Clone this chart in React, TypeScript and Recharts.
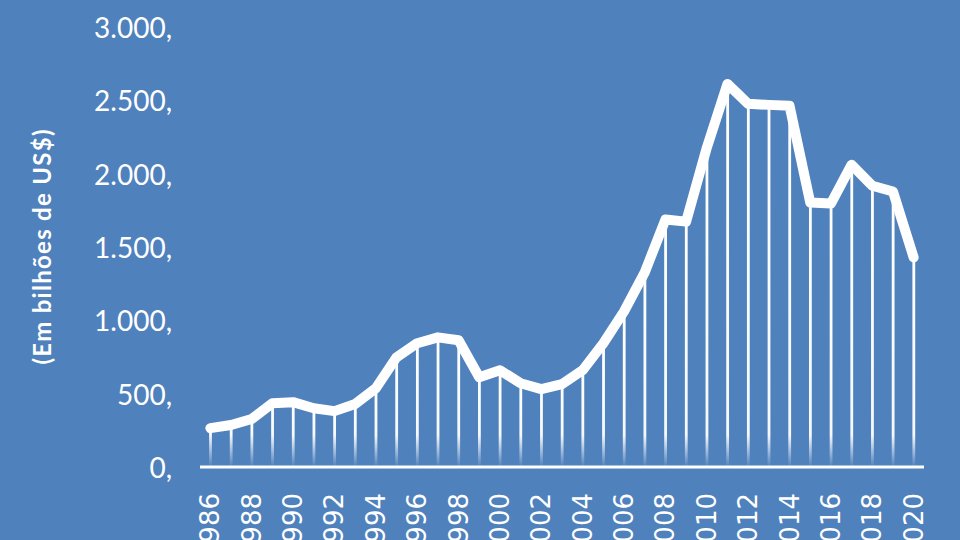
import React from "react";
import { ComposedChart, Line, Bar, XAxis, YAxis, Label } from "recharts";

const years = [
  "1986", "1987", "1988", "1989", "1990", "1991", "1992", "1993", "1994", "1995",
  "1996", "1997", "1998", "1999", "2000", "2001", "2002", "2003", "2004", "2005",
  "2006", "2007", "2008", "2009", "2010", "2011", "2012", "2013", "2014", "2015",
  "2016", "2017", "2018", "2019", "2020",
];

const values = [
  265, 286, 327, 435, 442, 401, 381, 429, 537, 748,
  844, 884, 864, 612, 660, 571, 531, 565, 660, 844,
  1061, 1327, 1687, 1673, 2177, 2612, 2476, 2469, 2463, 1803,
  1796, 2061, 1918, 1878, 1429,
];

const yTicks = [0, 500, 1000, 1500, 2000, 2500, 3000];
const yTickLabels = ["0,", "500,", "1.000,", "1.500,", "2.000,", "2.500,", "3.000,"];
const yTitle = "(Em bilhões de US$)";

const data = years.map((year, i) => ({ year, value: values[i] }));

const BG = "#4F81BD";

const DropLine = (props: any) => {
  const { x, y, width, height, index } = props;
  if (!height || height <= 0) return null;
  const cx = x + width / 2;
  const id = `drop-grad-${index}`;
  const fadeStart = Math.max(0, 1 - 32 / height);
  return (
    <g>
      <defs>
        <linearGradient id={id} x1="0" y1="0" x2="0" y2="1">
          <stop offset="0" stopColor="#ffffff" stopOpacity={1} />
          <stop offset={fadeStart} stopColor="#ffffff" stopOpacity={0.95} />
          <stop offset="1" stopColor="#ffffff" stopOpacity={0} />
        </linearGradient>
      </defs>
      <rect x={cx - 1.4} y={y} width={2.8} height={height} fill={`url(#${id})`} />
    </g>
  );
};

const XTick = (props: any) => {
  const { x, y, payload } = props;
  return (
    <text
      x={x}
      y={y}
      transform={`rotate(-90, ${x}, ${y})`}
      textAnchor="end"
      dominantBaseline="central"
      fill="#ffffff"
      fontFamily="DejaVu Sans"
      fontSize={26}
    >
      {payload.value}
    </text>
  );
};

const YTick = (props: any) => {
  const { x, y, payload } = props;
  const idx = yTicks.indexOf(payload.value);
  return (
    <text
      x={x}
      y={y}
      textAnchor="end"
      dominantBaseline="central"
      fill="#ffffff"
      fontFamily="Lato"
      fontSize={28}
    >
      {yTickLabels[idx]}
    </text>
  );
};

const YTitle = (props: any) => {
  const { viewBox } = props;
  const cy = viewBox.y + viewBox.height / 2;
  const cx = 41;
  return (
    <text
      x={cx}
      y={cy}
      transform={`rotate(-90, ${cx}, ${cy})`}
      textAnchor="middle"
      dominantBaseline="central"
      fill="#ffffff"
      fontFamily="Lato"
      fontWeight="bold"
      fontSize={24}
      textLength={235}
      lengthAdjust="spacing"
    >
      {yTitle}
    </text>
  );
};

export default function App() {
  return (
    <div style={{ position: "fixed", left: 0, top: 0, width: 960, height: 540, background: BG, overflow: "hidden" }}>
      <ComposedChart
        width={960}
        height={540}
        data={data}
        margin={{ top: 27, right: 36, bottom: 0, left: 0 }}
        barCategoryGap={0}
      >
        <XAxis
          dataKey="year"
          interval={1}
          tickLine={false}
          axisLine={{ stroke: "#ffffff", strokeWidth: 3 }}
          tick={<XTick />}
          tickMargin={20}
          height={73}
        />
        <YAxis
          domain={[0, 3000]}
          ticks={yTicks}
          width={200}
          axisLine={false}
          tickLine={false}
          tick={<YTick />}
          tickMargin={22}
        >
          <Label content={<YTitle />} />
        </YAxis>
        <Bar dataKey="value" shape={<DropLine />} isAnimationActive={false} />
        <Line
          dataKey="value"
          type="linear"
          stroke="#ffffff"
          strokeWidth={10}
          strokeLinejoin="round"
          strokeLinecap="round"
          dot={false}
          activeDot={false}
          isAnimationActive={false}
        />
      </ComposedChart>
    </div>
  );
}
